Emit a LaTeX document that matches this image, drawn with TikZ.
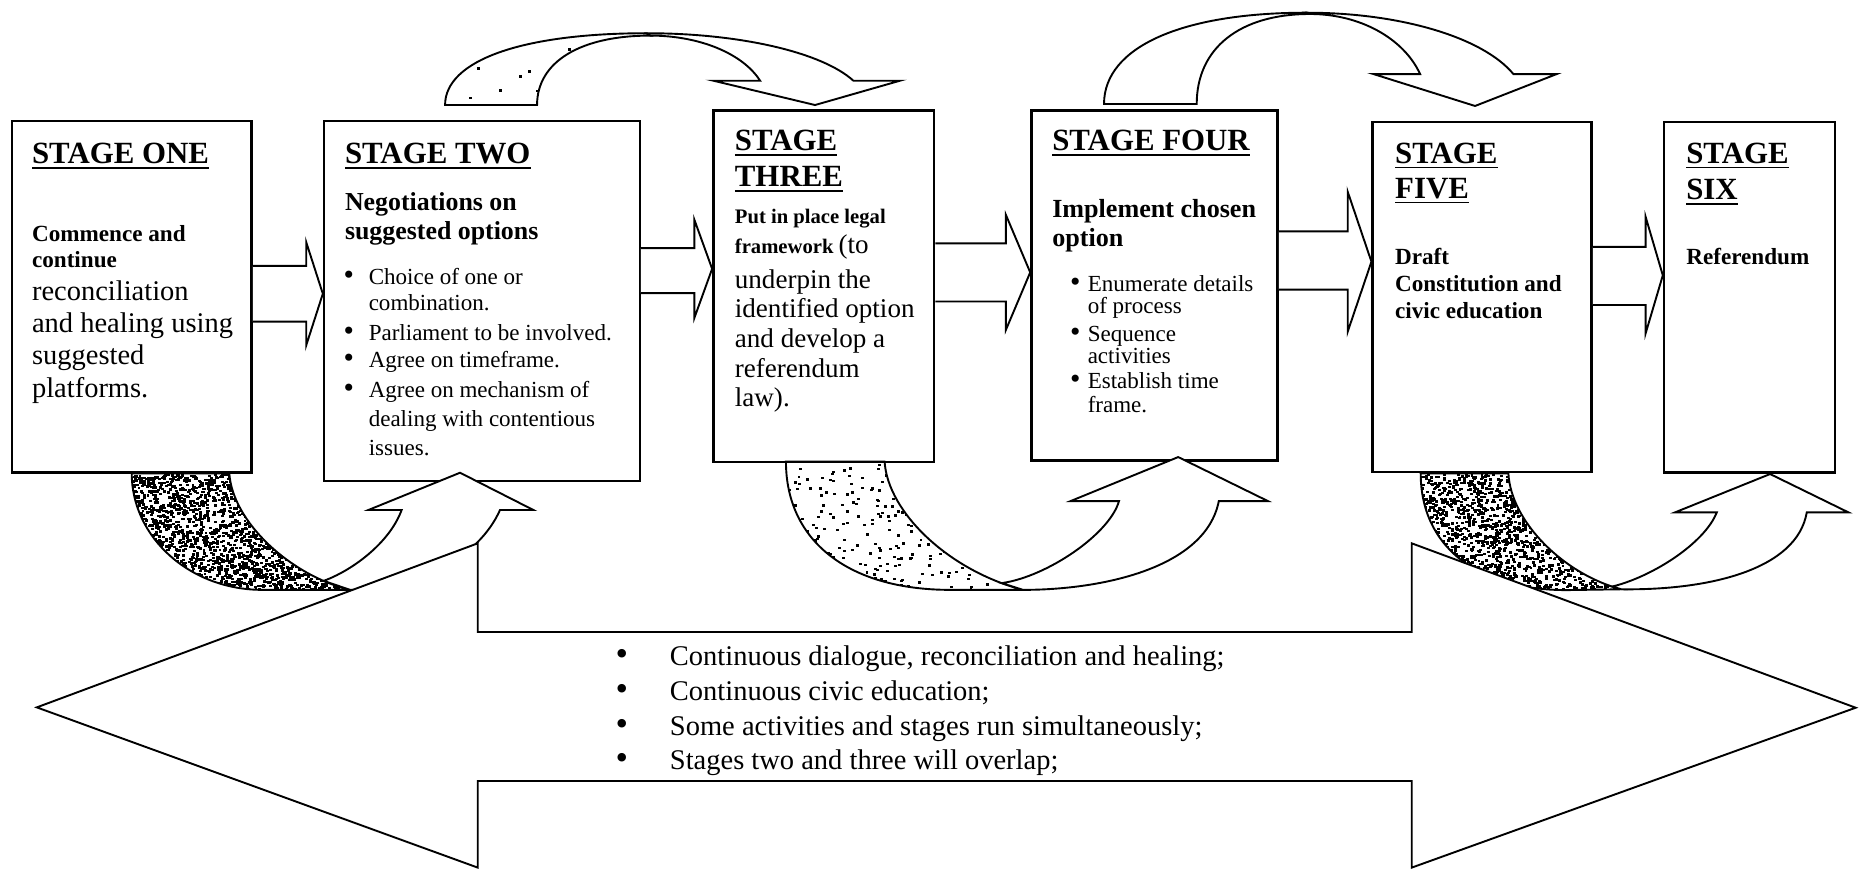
\documentclass[tikz,border=0pt]{standalone}
\usepackage{fontspec}
\setmainfont{Liberation Serif}
\newcommand\fs[2]{\fontsize{#1}{#2}\selectfont}
\newcommand\stul[1]{\setbox0\hbox{#1}\rlap{\rule[-2.2pt]{\wd0}{0.8pt}}\box0}
% random specks: seed, count, xmin, width, ymin, height
\newcommand\speckle[6]{%
  \pgfmathsetseed{#1}%
  \foreach \k in {1,...,#2}{%
    \pgfmathsetmacro\spx{#3+#4*rnd}\pgfmathsetmacro\spy{#5+#6*rnd}%
    \fill (\spx,\spy) rectangle ++(2.5,2);}}
\tikzset{
  stagebox/.style={draw, line width=1pt, fill=white, inner sep=0pt},
  blk/.style={draw, line width=0.8pt, fill=white, line join=miter},
  edge/.style={draw, line width=0.8pt, line join=miter},
  txt/.style={anchor=base west, inner sep=0pt, outer sep=0pt},
  dot/.style={anchor=base, inner sep=0pt, outer sep=0pt},
  ttl/.style={txt, font=\bfseries\fs{13}{15}},
  bsm/.style={txt, font=\bfseries\fs{9.75}{11}},
  rg12/.style={txt, font=\fs{12}{13.8}},
  nego/.style={txt, font=\bfseries\fs{10.9}{12.5}},
  bulA/.style={txt, font=\fs{9.7}{11}},
  s3b/.style={txt, font=\bfseries\fs{8.7}{10}},
  s3r/.style={txt, font=\fs{11.4}{13}},
  s4b/.style={txt, font=\bfseries\fs{11}{12.5}},
  bot/.style={txt, font=\fs{12}{14}},
}
\begin{document}
\begin{tikzpicture}[x=0.5pt,y=-0.5pt]
\useasboundingbox (0,0) rectangle (1568,732);

% stage boxes
\node[stagebox, minimum width=101pt, minimum height=148pt] (s1) at (111,250) {};
\node[stagebox, minimum width=133pt, minimum height=151.75pt] (s2) at (406,253.75) {};
\node[stagebox, minimum width=93pt, minimum height=148pt] (s3) at (694,241) {};
\node[stagebox, minimum width=103.75pt, minimum height=147.5pt] (s4) at (972.75,240.5) {};
\node[stagebox, minimum width=92.25pt, minimum height=147.25pt] (s5) at (1248.75,250.25) {};
\node[stagebox, minimum width=72pt, minimum height=147.5pt] (s6) at (1474,250.5) {};

% straight block arrows between the boxes
\path[blk] (s1.east |- 0,224) -- (258,224) -- (258,204) -- (s2.west |- 0,247.5) -- (258,291) -- (258,271) -- (s1.east |- 0,271);
\path[blk] (s2.east |- 0,209) -- (585,209) -- (585,185) -- (s3.west |- 0,226.5) -- (585,268) -- (585,247) -- (s2.east |- 0,247);
\path[blk] (s3.east |- 0,205) -- (847.5,205) -- (847.5,181) -- (s4.west |- 0,229.5) -- (847.5,278) -- (847.5,254) -- (s3.east |- 0,254);
\path[blk] (s4.east |- 0,195) -- (1135.5,195) -- (1135.5,161.5) -- (s5.west |- 0,220.5) -- (1135.5,279.5) -- (1135.5,244) -- (s4.east |- 0,244);
\path[blk] (s5.east |- 0,208) -- (1386.5,208) -- (1386.5,182.6) -- (s6.west |- 0,232) -- (1386.5,281) -- (1386.5,257) -- (s5.east |- 0,257);

% top curved arrow: stage two -> stage three
\begin{scope}
  \clip (375,88.5) .. controls (375,51) and (439.6,28) .. (545,28) -- (548,30)
    .. controls (488.8,30) and (452.5,52.2) .. (452.5,88.5) -- cycle;
  \speckle{7}{14}{375}{175}{28}{61}
\end{scope}
\path[edge] (375,88.5) .. controls (375,51) and (439.6,28) .. (545,28) -- (548,30)
  .. controls (488.8,30) and (452.5,52.2) .. (452.5,88.5) -- cycle;
\path[blk] (545,28) .. controls (623,28) and (692.6,44) .. (719,68) -- (758.3,68) -- (686.7,88.5)
  -- (601,68) -- (640.4,68) .. controls (625.9,45.1) and (589.2,30) .. (548,30) -- cycle;

% top curved arrow: stage four -> stage five
\path[blk] (930.2,87.6) .. controls (930.2,39.9) and (995.1,10.7) .. (1101,10.7) -- (1103.8,11.8)
  .. controls (1044.5,11.8) and (1008.3,40.6) .. (1008.3,87.6) -- cycle;
\path[blk] (1101,10.7) .. controls (1179.6,10.7) and (1249.4,31.4) .. (1275.1,62.4) -- (1311.6,62.4)
  -- (1242.8,89.3) -- (1157.2,62.4) -- (1196.5,62.4) .. controls (1182.6,32.1) and (1145.5,11.8) .. (1103.8,11.8) -- cycle;

% bottom U arrow: stage one -> stage two
\begin{scope}
  \clip (111,398.8) .. controls (111,453) and (160.2,497) .. (221,497) -- (295,497)
    .. controls (245,485) and (196,440) .. (193.2,398.8) -- cycle;
  \speckle{3}{2600}{111}{184}{398.8}{98.2}
\end{scope}
\path[edge] (111,398.8) .. controls (111,453) and (160.2,497) .. (221,497) -- (295,497)
  .. controls (245,485) and (196,440) .. (193.2,398.8) -- cycle;
\path[blk] (272.7,489.4) .. controls (296,481) and (328,458) .. (338.4,429.7) -- (310.4,429.7)
  -- (387.6,398.3) -- (449.4,429.7) -- (421.3,429.7) .. controls (403.3,469.8) and (352.3,497) .. (295,497) -- cycle;

% bottom U arrow: stage three -> stage four
\begin{scope}
  \clip (662.2,388.8) .. controls (662.2,455.9) and (714.8,497) .. (800.7,497) -- (862,497)
    .. controls (800,481) and (748,432) .. (745.3,388.8) -- cycle;
  \speckle{5}{320}{662}{200}{388.8}{108.2}
\end{scope}
\path[edge] (662.2,388.8) .. controls (662.2,455.9) and (714.8,497) .. (800.7,497) -- (862,497)
  .. controls (800,481) and (748,432) .. (745.3,388.8) -- cycle;
\path[blk] (844,491.3) .. controls (882,486) and (935,450) .. (942.8,422.2) -- (902,422.2)
  -- (992.7,385.1) -- (1068.3,422.2) -- (1026.9,422.2) .. controls (1016,478) and (930,497) .. (862,497) -- cycle;

% bottom U arrow: stage five -> stage six
\begin{scope}
  \clip (1197,398.8) .. controls (1197,459.8) and (1243.7,497.2) .. (1320,497.2) -- (1366,496.5)
    .. controls (1318,484) and (1273,440) .. (1270.9,398.8) -- cycle;
  \speckle{9}{2000}{1197}{169}{398.8}{98.4}
\end{scope}
\path[edge] (1197,398.8) .. controls (1197,459.8) and (1243.7,497.2) .. (1320,497.2) -- (1366,496.5)
  .. controls (1318,484) and (1273,440) .. (1270.9,398.8) -- cycle;
\path[blk] (1358.4,494.2) .. controls (1392,486) and (1436,458) .. (1446.5,431.7) -- (1411.3,431.7)
  -- (1491.4,399.4) -- (1557.4,431.7) -- (1522.3,431.7) .. controls (1514,480) and (1440,497.5) .. (1366,496.5) -- cycle;

% big double arrow
\path[blk] (31,596) -- (402.5,457.8) -- (402.5,532.5) -- (1189.5,532.5) -- (1189.5,457.8) -- (1563.5,596.3)
  -- (1189.5,731) -- (1189.5,658) -- (402.5,658) -- (402.5,731) -- cycle;

% ---- texts ----
% stage one
\node[ttl] (t1) at (27,138) {\stul{STAGE ONE}};
\foreach \y/\t [count=\i] in {203.5/Commence and, 225.5/continue}
  \node[bsm] (s1b\i) at (27,\y) {\t};
\foreach \y/\t [count=\i] in {253/reconciliation, 280/and healing using, 307/suggested, 334.5/platforms.}
  \node[rg12] (s1r\i) at (27,\y) {\t};

% stage two
\node[ttl] (t2) at (290.7,138) {\stul{STAGE TWO}};
\foreach \y/\t [count=\i] in {177.5/Negotiations on, 201.8/suggested options}
  \node[nego] (s2b\i) at (290.7,\y) {\t};
\foreach \y/\t [count=\i] in {240/Choice of one or, 261.8/combination., 286.5/Parliament to be involved.,
    310/Agree on timeframe., 335/Agree on mechanism of, 359/dealing with contentious, 383.5/issues.}
  \node[bulA] (s2l\i) at (310.7,\y) {\t};
\foreach \y [count=\i] in {240, 286.5, 310, 335}
  \node[dot, font=\fs{12.5}{14}] (s2d\i) at (294,\y) {\textbullet};

% stage three
\node[ttl] (t3a) at (619.2,127) {\stul{STAGE}};
\node[ttl] (t3b) at (619.2,157.5) {\stul{THREE}};
\node[s3b] (s3l1) at (619.2,188.5) {Put in place legal};
\node[txt] (s3l2) at (619.2,214) {{\bfseries\fs{8.7}{10}framework }{\fs{11.4}{13}(to}};
\foreach \y/\t [count=\i] in {243/underpin the, 267.5/identified option, 292.5/and develop a, 317.8/referendum, 342.5/law).}
  \node[s3r] (s3r\i) at (619.2,\y) {\t};

% stage four
\node[ttl] (t4) at (886.6,127) {\stul{STAGE FOUR}};
\foreach \y/\t [count=\i] in {183.5/Implement chosen, 207.5/option}
  \node[s4b] (s4b\i) at (886.6,\y) {\t};
\foreach \y/\t [count=\i] in {245.5/Enumerate details, 264.5/of process, 287.5/Sequence, 306.5/activities, 327.5/Establish time, 347.5/frame.}
  \node[bulA] (s4l\i) at (916.5,\y) {\t};
\foreach \y [count=\i] in {245.5, 287.5, 327.5}
  \node[dot, font=\fs{12.5}{14}] (s4d\i) at (906,\y) {\textbullet};

% stage five
\node[ttl] (t5a) at (1175.5,137.5) {\stul{STAGE}};
\node[ttl] (t5b) at (1175.5,167) {\stul{FIVE}};
\foreach \y/\t [count=\i] in {222.5/Draft, 245.5/Constitution and, 268.5/civic education}
  \node[bsm] (s5b\i) at (1175.5,\y) {\t};

% stage six
\node[ttl] (t6a) at (1420.8,137.5) {\stul{STAGE}};
\node[ttl] (t6b) at (1420.8,168) {\stul{SIX}};
\node[bsm] (s6b1) at (1420.8,222.5) {Referendum};

% text in the big arrow
\foreach \y/\t [count=\i] in {561/{Continuous dialogue, reconciliation and healing;}, 590.5/{Continuous civic education;},
    619.5/{Some activities and stages run simultaneously;}, 648/{Stages two and three will overlap;}}
  {\node[bot] (bl\i) at (564.5,\y) {\t};
   \node[dot, font=\fs{15}{16}] (bd\i) at (524,\y) {\textbullet};}
\end{tikzpicture}
\end{document}
